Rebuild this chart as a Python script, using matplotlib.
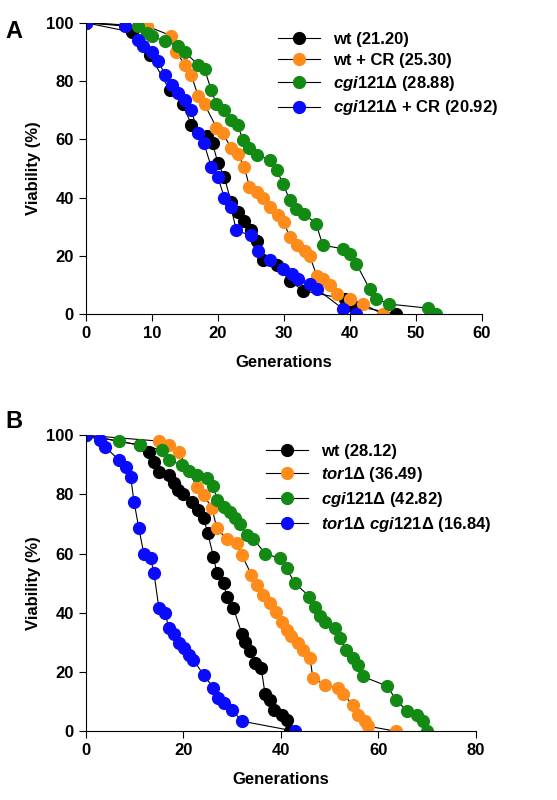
import matplotlib
matplotlib.use("Agg")
import matplotlib.pyplot as plt

# Panel A data (generations, viability %)
a_wt_x = [0, 7, 9.7, 12.7, 14.7, 16, 18.3, 19.2, 20, 21, 22, 23, 24, 25.1, 26, 26.8, 28.9, 30.9, 32.9, 39.2, 40.5, 47]
a_wt_y = [100, 96.8, 89, 77, 72, 65, 61, 58.6, 52, 47, 38.5, 35, 32, 28.7, 25, 18.4, 16.7, 11.5, 8, 5.2, 2.9, 0]
a_cr_x = [0, 9.2, 12.9, 13.7, 15, 16, 17, 18, 19.8, 20.8, 22, 23, 24, 24.8, 25.9, 26.9, 27.9, 29.1, 30, 30.9, 32, 33.2, 33.9, 35, 36, 37, 38, 40, 42, 45]
a_cr_y = [100, 98.9, 95.6, 90, 85.6, 82, 75, 72, 64, 62, 57, 55, 50.6, 43.7, 42, 40, 36.8, 34, 31.6, 26.4, 23.6, 21.8, 20, 13.2, 12, 9.8, 6.9, 5.2, 3.4, 0]
a_cgi_x = [0, 7.9, 9.2, 10, 12, 14, 15, 17, 18, 19, 19.8, 21, 22, 23, 23.8, 24.8, 26, 27.9, 28.9, 29.9, 30.9, 31.9, 33, 34.9, 35.9, 39, 40, 41, 43, 44, 46, 51.9, 53.1]
a_cgi_y = [100, 98.9, 96.6, 95.4, 93.7, 92, 90, 85.6, 84, 77, 72, 70, 66.7, 65, 59.8, 57, 54.6, 52.9, 49.4, 44.8, 39, 36, 34.5, 31, 23.6, 22.4, 20.7, 17.2, 8.6, 5.2, 3.4, 2, 0]
a_cgicr_x = [0, 5.9, 7.9, 8.7, 10, 11, 12, 13, 14, 15, 16, 17, 17.9, 19, 20, 21, 22, 22.8, 25, 26.1, 27.9, 29.9, 31.2, 32.2, 33.9, 35, 39, 41]
a_cgicr_y = [100, 98.9, 94, 92, 90, 87, 82, 78.7, 76, 73.6, 70, 62, 58.6, 50.6, 47, 40, 36.8, 28.7, 27, 21.8, 18.4, 15.5, 13.8, 12, 10.3, 8.6, 1.7, 0]

# Panel B data
b_wt_x = [0, 11.2, 12.9, 14, 15, 17, 18, 19, 20, 21.8, 23.1, 24.2, 25, 26.2, 26.9, 28.3, 28.9, 30.3, 32, 32.7, 33.7, 34.7, 36, 36.8, 37.8, 38.7, 40.2, 41.2, 41.9]
b_wt_y = [100, 96.6, 94.4, 91, 87.6, 86.5, 84, 81.5, 80, 77.5, 74.7, 72, 67, 59, 53.4, 50, 45.5, 41.6, 33, 30.3, 27, 23, 21.3, 12.4, 10.7, 7.3, 5.6, 3.9, 0]
b_tor_x = [0, 15, 17, 19.1, 22.8, 24.2, 25.9, 26.9, 28.9, 31, 32, 34, 35.1, 36.4, 37.8, 39.1, 40.2, 41.2, 42.2, 43.6, 44.6, 46, 46.6, 49, 51.7, 52.8, 54.8, 55.8, 57.2, 57.9, 63.6]
b_tor_y = [100, 98, 96.6, 94.4, 82.6, 79.8, 75.3, 68.5, 65, 63.5, 59.6, 52.8, 49.4, 46, 43.3, 40.4, 37, 34.3, 32, 29.8, 27.5, 24.7, 18, 15.7, 14.6, 12.4, 9, 5.6, 3.4, 1.7, 0]
b_cgi_x = [0, 6.8, 11.2, 15.7, 17, 19.7, 21.1, 22.8, 24.8, 26.2, 26.9, 28.3, 29.6, 30.6, 31.7, 33, 34.4, 36.8, 39.8, 41.2, 42.9, 45.9, 47, 48, 49, 51.1, 52.1, 53.4, 54.8, 55.8, 56.8, 61.9, 63.6, 66, 68, 69.1, 70.1]
b_cgi_y = [100, 98, 96.6, 95, 91.6, 89.9, 88, 86.5, 85.4, 83, 78, 75.8, 74, 72, 70, 66.3, 65, 60, 58.4, 55, 50, 45.5, 42, 38.8, 37, 34.8, 31.5, 27.5, 24.7, 22.5, 18.5, 15.2, 10.7, 6.7, 5.6, 3.4, 0]
b_dbl_x = [0, 3, 4, 6.8, 8.2, 9.2, 9.9, 10.9, 11.9, 13.3, 14, 15, 16.3, 17, 18, 19.1, 20.1, 21.1, 22.1, 24.2, 26.2, 27.2, 28.3, 30, 32, 42.9]
b_dbl_y = [100, 98.3, 96, 91.6, 89.3, 86, 77.5, 68.5, 60, 58.4, 53.4, 41.6, 40, 34.8, 33, 29.8, 28, 25.8, 24, 19, 14.6, 11.2, 9.5, 7.3, 3.4, 0]

labels_a = ['wt (21.20)', 'wt + CR (25.30)', r'$\mathit{cgi121}\Delta$ (28.88)', r'$\mathit{cgi121}\Delta$ + CR (20.92)']
labels_b = ['wt (28.12)', r'$\mathit{tor1}\Delta$ (36.49)', r'$\mathit{cgi121}\Delta$ (42.82)', r'$\mathit{tor1}\Delta\ \mathit{cgi121}\Delta$ (16.84)']
colors = ['black', '#ff8c1a', '#138a13', '#0a0aff']

plt.rcParams['font.family'] = ['Liberation Sans', 'DejaVu Sans']
plt.rcParams['font.weight'] = 'bold'
plt.rcParams['mathtext.fontset'] = 'custom'
plt.rcParams['mathtext.bf'] = 'Liberation Sans:bold'
plt.rcParams['mathtext.it'] = 'Liberation Sans:italic:bold'
plt.rcParams['mathtext.rm'] = 'Liberation Sans:bold'

fig = plt.figure(figsize=(5.57, 8), dpi=100)
ax1 = fig.add_axes([0.154, 0.6075, 0.711, 0.364])
ax2 = fig.add_axes([0.154, 0.086, 0.700, 0.370])


def draw(ax, series, labels, xmax, xstep):
    for (x, y), lab, c in zip(series, labels, colors):
        ax.plot(x, y, '-o', color='black', lw=0.8, markerfacecolor=c,
                markeredgecolor=c, markersize=8.5, label=lab)
    ax.set_xlim(0, xmax)
    ax.set_ylim(0, 100)
    ax.set_xticks(range(0, xmax + 1, xstep))
    ax.set_yticks(range(0, 101, 20))
    ax.tick_params(labelsize=12, direction='out', length=5)
    for s in ['top', 'right']:
        ax.spines[s].set_visible(False)
    ax.set_ylabel('Viability (%)', fontsize=12, fontweight='bold')
    ax.set_xlabel('Generations', fontsize=12, fontweight='bold', labelpad=10)
    for lab in ax.get_xticklabels() + ax.get_yticklabels():
        lab.set_fontweight('bold')
    leg = ax.legend(loc='upper right', bbox_to_anchor=(1.08, 1.02), frameon=False,
                    fontsize=12, handlelength=2.5, labelspacing=0.35)
    for t in leg.get_texts():
        t.set_fontweight('bold')


draw(ax1, [(a_wt_x, a_wt_y), (a_cr_x, a_cr_y), (a_cgi_x, a_cgi_y), (a_cgicr_x, a_cgicr_y)], labels_a, 60, 10)
draw(ax2, [(b_wt_x, b_wt_y), (b_tor_x, b_tor_y), (b_cgi_x, b_cgi_y), (b_dbl_x, b_dbl_y)], labels_b, 80, 20)

fig.text(0.01, 0.975, 'A', fontsize=17, fontweight='bold', va='top')
fig.text(0.01, 0.487, 'B', fontsize=17, fontweight='bold', va='top')

fig.savefig('out.png', dpi=100)
